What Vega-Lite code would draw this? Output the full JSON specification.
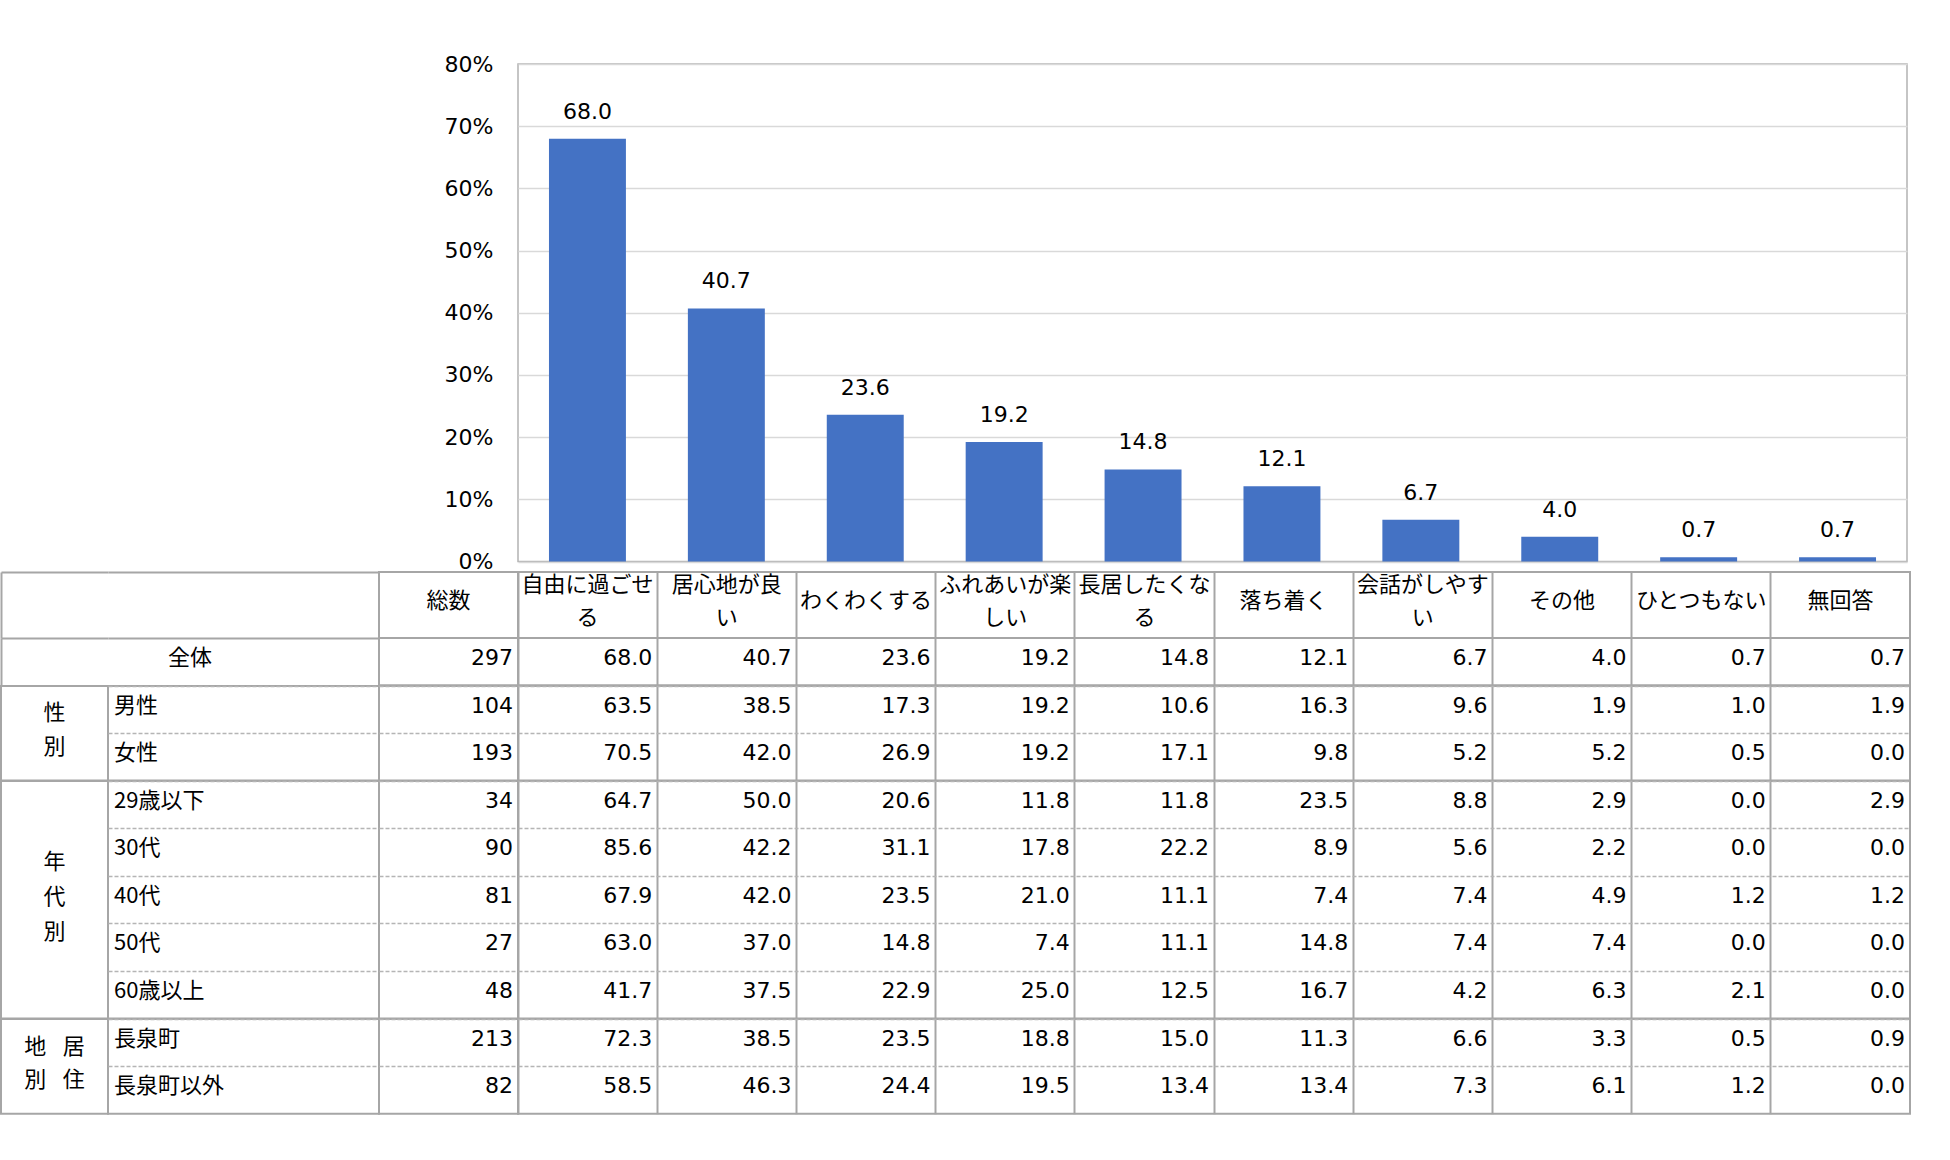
{
  "$schema": "https://vega.github.io/schema/vega-lite/v6.json",
  "padding": {"top": 52, "left": 0, "right": 5, "bottom": 5},
  "background": "white",
  "config": {
    "view": {"stroke": "#a6a6a6", "strokeWidth": 2},
    "text": {"color": "#000000"}
  },
  "datasets": {
    "rows": [
      {"group": "全体", "row": "全体", "n": 297, "自由に過ごせる": 68.0, "居心地が良い": 40.7, "わくわくする": 23.6, "ふれあいが楽しい": 19.2, "長居したくなる": 14.8, "落ち着く": 12.1, "会話がしやすい": 6.7, "その他": 4.0, "ひとつもない": 0.7, "無回答": 0.7},
      {"group": "性別", "row": "男性", "n": 104, "自由に過ごせる": 63.5, "居心地が良い": 38.5, "わくわくする": 17.3, "ふれあいが楽しい": 19.2, "長居したくなる": 10.6, "落ち着く": 16.3, "会話がしやすい": 9.6, "その他": 1.9, "ひとつもない": 1.0, "無回答": 1.9},
      {"group": "性別", "row": "女性", "n": 193, "自由に過ごせる": 70.5, "居心地が良い": 42.0, "わくわくする": 26.9, "ふれあいが楽しい": 19.2, "長居したくなる": 17.1, "落ち着く": 9.8, "会話がしやすい": 5.2, "その他": 5.2, "ひとつもない": 0.5, "無回答": 0.0},
      {"group": "年代別", "row": "29歳以下", "n": 34, "自由に過ごせる": 64.7, "居心地が良い": 50.0, "わくわくする": 20.6, "ふれあいが楽しい": 11.8, "長居したくなる": 11.8, "落ち着く": 23.5, "会話がしやすい": 8.8, "その他": 2.9, "ひとつもない": 0.0, "無回答": 2.9},
      {"group": "年代別", "row": "30代", "n": 90, "自由に過ごせる": 85.6, "居心地が良い": 42.2, "わくわくする": 31.1, "ふれあいが楽しい": 17.8, "長居したくなる": 22.2, "落ち着く": 8.9, "会話がしやすい": 5.6, "その他": 2.2, "ひとつもない": 0.0, "無回答": 0.0},
      {"group": "年代別", "row": "40代", "n": 81, "自由に過ごせる": 67.9, "居心地が良い": 42.0, "わくわくする": 23.5, "ふれあいが楽しい": 21.0, "長居したくなる": 11.1, "落ち着く": 7.4, "会話がしやすい": 7.4, "その他": 4.9, "ひとつもない": 1.2, "無回答": 1.2},
      {"group": "年代別", "row": "50代", "n": 27, "自由に過ごせる": 63.0, "居心地が良い": 37.0, "わくわくする": 14.8, "ふれあいが楽しい": 7.4, "長居したくなる": 11.1, "落ち着く": 14.8, "会話がしやすい": 7.4, "その他": 7.4, "ひとつもない": 0.0, "無回答": 0.0},
      {"group": "年代別", "row": "60歳以上", "n": 48, "自由に過ごせる": 41.7, "居心地が良い": 37.5, "わくわくする": 22.9, "ふれあいが楽しい": 25.0, "長居したくなる": 12.5, "落ち着く": 16.7, "会話がしやすい": 4.2, "その他": 6.3, "ひとつもない": 2.1, "無回答": 0.0},
      {"group": "居住地別", "row": "長泉町", "n": 213, "自由に過ごせる": 72.3, "居心地が良い": 38.5, "わくわくする": 23.5, "ふれあいが楽しい": 18.8, "長居したくなる": 15.0, "落ち着く": 11.3, "会話がしやすい": 6.6, "その他": 3.3, "ひとつもない": 0.5, "無回答": 0.9},
      {"group": "居住地別", "row": "長泉町以外", "n": 82, "自由に過ごせる": 58.5, "居心地が良い": 46.3, "わくわくする": 24.4, "ふれあいが楽しい": 19.5, "長居したくなる": 13.4, "落ち着く": 13.4, "会話がしやすい": 7.3, "その他": 6.1, "ひとつもない": 1.2, "無回答": 0.0}
    ],
    "cats": [
      {"cat": "自由に過ごせる", "head": ["自由に過ごせ", "る"]},
      {"cat": "居心地が良い", "head": ["居心地が良", "い"]},
      {"cat": "わくわくする", "head": ["わくわくする"]},
      {"cat": "ふれあいが楽しい", "head": ["ふれあいが楽", "しい"]},
      {"cat": "長居したくなる", "head": ["長居したくな", "る"]},
      {"cat": "落ち着く", "head": ["落ち着く"]},
      {"cat": "会話がしやすい", "head": ["会話がしやす", "い"]},
      {"cat": "その他", "head": ["その他"]},
      {"cat": "ひとつもない", "head": ["ひとつもない"]},
      {"cat": "無回答", "head": ["無回答"]}
    ]
  },
  "columns": 4,
  "spacing": 0,
  "bounds": "flush",
  "concat": [
    {
      "width": 107, "height": 507.5,
      "view": {"stroke": null},
      "data": {"values": [{"t": ""}]},
      "mark": "text",
      "encoding": {"text": {"field": "t"}}
    },
    {
      "width": 271, "height": 507.5,
      "view": {"stroke": null},
      "data": {"values": [{"t": ""}]},
      "mark": "text",
      "encoding": {"text": {"field": "t"}}
    },
    {
      "width": 139, "height": 507.5,
      "view": {"stroke": null},
      "data": {"values": [{"t": ""}]},
      "mark": "text",
      "encoding": {"text": {"field": "t"}}
    },
    {
      "width": 1389, "height": 497.5,
      "view": {"stroke": "#b3b3b3", "strokeWidth": 1.5},
      "data": {"name": "rows"},
      "transform": [
        {"filter": "datum.group === '全体'"},
        {"fold": ["自由に過ごせる", "居心地が良い", "わくわくする", "ふれあいが楽しい", "長居したくなる", "落ち着く", "会話がしやすい", "その他", "ひとつもない", "無回答"], "as": ["cat", "v"]}
      ],
      "encoding": {
        "x": {"field": "cat", "type": "nominal", "sort": null, "scale": {"paddingInner": 0.446, "paddingOuter": 0.223}, "axis": null},
        "y": {"field": "v", "type": "quantitative", "scale": {"domain": [0, 80], "nice": false},
          "axis": {"title": null, "values": [0, 10, 20, 30, 40, 50, 60, 70, 80], "labelExpr": "datum.value + '%'", "labelFont": "DejaVu Sans", "labelFontSize": 22, "labelColor": "#000000", "labelPadding": 25, "ticks": false, "domain": false, "grid": true, "gridColor": "#d9d9d9", "gridWidth": 1.5}}
      },
      "layer": [
        {"mark": {"type": "bar", "color": "#4472C4"}},
        {"mark": {"type": "text", "font": "DejaVu Sans", "fontSize": 22, "baseline": "alphabetic", "dy": -20},
          "encoding": {"text": {"field": "v", "type": "quantitative", "format": ".1f"}}}
      ]
    },

    {
      "width": 107, "height": 66,
      "view": {"stroke": null},
      "data": {"values": [{"k": "a", "t": ""}]},
      "mark": "text",
      "encoding": {
        "x": {"field": "k", "type": "nominal", "scale": {"type": "band", "paddingInner": 0, "paddingOuter": 0},
          "axis": {"orient": "top", "title": null, "labels": false, "ticks": false, "domain": true, "domainColor": "#a6a6a6", "domainWidth": 2, "grid": true, "gridColor": "#a6a6a6", "gridWidth": 2, "bandPosition": 0}},
        "text": {"field": "t"}
      }
    },
    {
      "width": 271, "height": 66,
      "view": {"stroke": null},
      "data": {"values": [{"k": "a", "t": ""}]},
      "mark": "text",
      "encoding": {
        "x": {"field": "k", "type": "nominal", "scale": {"type": "band", "paddingInner": 0, "paddingOuter": 0},
          "axis": {"orient": "top", "title": null, "labels": false, "ticks": false, "domain": true, "domainColor": "#a6a6a6", "domainWidth": 2, "grid": false}},
        "text": {"field": "t"}
      }
    },
    {
      "width": 139, "height": 66,
      "data": {"values": [{"t": "総数"}]},
      "mark": {"type": "text", "font": "Noto Sans CJK JP", "fontSize": 22, "baseline": "middle", "dy": -4},
      "encoding": {
        "x": {"field": "t", "type": "nominal", "scale": {"type": "band", "paddingInner": 0, "paddingOuter": 0}, "bandPosition": 0.5, "axis": null},
        "y": {"field": "t", "type": "nominal", "scale": {"type": "band", "paddingInner": 0, "paddingOuter": 0}, "bandPosition": 0.5, "axis": null},
        "text": {"field": "t"}
      }
    },
    {
      "width": 1392, "height": 66,
      "data": {"name": "cats"},
      "encoding": {
        "x": {"field": "cat", "type": "nominal", "scale": {"type": "band", "paddingInner": 0, "paddingOuter": 0, "domain": ["自由に過ごせる", "居心地が良い", "わくわくする", "ふれあいが楽しい", "長居したくなる", "落ち着く", "会話がしやすい", "その他", "ひとつもない", "無回答"]}, "bandPosition": 0.5,
          "axis": {"title": null, "labels": false, "ticks": false, "domain": false, "grid": true, "gridColor": "#a6a6a6", "gridWidth": 2, "bandPosition": 0}},
        "text": {"field": "head"}
      },
      "layer": [
        {"transform": [{"filter": "length(datum.head) === 1"}],
          "mark": {"type": "text", "font": "Noto Sans CJK JP", "fontSize": 22, "baseline": "middle", "dy": -4}},
        {"transform": [{"filter": "length(datum.head) === 2"}],
          "mark": {"type": "text", "font": "Noto Sans CJK JP", "fontSize": 22, "baseline": "middle", "lineHeight": 32.5, "dy": -20}}
      ]
    },

    {
      "width": 107, "height": 47.3,
      "view": {"stroke": null},
      "data": {"values": [{"k": "a", "t": ""}]},
      "mark": "text",
      "encoding": {
        "x": {"field": "k", "type": "nominal", "scale": {"type": "band", "paddingInner": 0, "paddingOuter": 0},
          "axis": {"orient": "top", "title": null, "labels": false, "ticks": false, "domain": true, "domainColor": "#a6a6a6", "domainWidth": 2, "grid": true, "gridColor": "#a6a6a6", "gridWidth": 2, "bandPosition": 0}},
        "text": {"field": "t"}
      }
    },
    {
      "width": 271, "height": 47.3,
      "view": {"stroke": null},
      "data": {"name": "rows"},
      "transform": [{"filter": "datum.group === '全体'"}],
      "mark": {"type": "text", "font": "Noto Sans CJK JP", "fontSize": 22, "baseline": "middle", "dy": -4},
      "encoding": {
        "x": {"field": "group", "type": "nominal", "scale": {"type": "band", "paddingInner": 0, "paddingOuter": 0}, "bandPosition": 0.3026,
          "axis": {"orient": "top", "title": null, "labels": false, "ticks": false, "domain": true, "domainColor": "#a6a6a6", "domainWidth": 2, "grid": false}},
        "y": {"field": "row", "type": "nominal", "scale": {"type": "band", "paddingInner": 0, "paddingOuter": 0}, "bandPosition": 0.5, "axis": null},
        "text": {"field": "row"}
      }
    },
    {
      "width": 139, "height": 47.3,
      "data": {"name": "rows"},
      "transform": [{"filter": "datum.group === '全体'"}],
      "mark": {"type": "text", "font": "DejaVu Sans", "fontSize": 22, "align": "right", "baseline": "middle", "dx": -5, "dy": -4},
      "encoding": {
        "x": {"field": "group", "type": "nominal", "scale": {"type": "band", "paddingInner": 0, "paddingOuter": 0}, "bandPosition": 1, "axis": null},
        "y": {"field": "row", "type": "nominal", "scale": {"type": "band", "paddingInner": 0, "paddingOuter": 0}, "bandPosition": 0.5, "axis": null},
        "text": {"field": "n", "type": "quantitative", "format": "d"}
      }
    },
    {
      "width": 1392, "height": 47.3,
      "data": {"name": "rows"},
      "transform": [
        {"filter": "datum.group === '全体'"},
        {"fold": ["自由に過ごせる", "居心地が良い", "わくわくする", "ふれあいが楽しい", "長居したくなる", "落ち着く", "会話がしやすい", "その他", "ひとつもない", "無回答"], "as": ["cat", "v"]}
      ],
      "mark": {"type": "text", "font": "DejaVu Sans", "fontSize": 22, "align": "right", "baseline": "middle", "dx": -5, "dy": -4},
      "encoding": {
        "x": {"field": "cat", "type": "nominal", "sort": null, "scale": {"type": "band", "paddingInner": 0, "paddingOuter": 0}, "bandPosition": 1,
          "axis": {"title": null, "labels": false, "ticks": false, "domain": false, "grid": true, "gridColor": "#a6a6a6", "gridWidth": 2, "bandPosition": 0}},
        "y": {"field": "row", "type": "nominal", "scale": {"type": "band", "paddingInner": 0, "paddingOuter": 0}, "bandPosition": 0.5, "axis": null},
        "text": {"field": "v", "type": "quantitative", "format": ".1f"}
      }
    },

    {
      "width": 107, "height": 94.5,
      "data": {"values": [{"k": "性別", "g": ["性", "別"]}]},
      "mark": {"type": "text", "font": "Noto Sans CJK JP", "fontSize": 22, "baseline": "middle", "lineHeight": 34, "dy": -20},
      "encoding": {
        "x": {"field": "k", "type": "nominal", "scale": {"type": "band", "paddingInner": 0, "paddingOuter": 0}, "bandPosition": 0.5, "axis": null},
        "y": {"field": "k", "type": "nominal", "scale": {"type": "band", "paddingInner": 0, "paddingOuter": 0}, "bandPosition": 0.5, "axis": null},
        "text": {"field": "g"}
      }
    },
    {
      "width": 271, "height": 94.5,
      "data": {"name": "rows"},
      "transform": [{"filter": "datum.group === '性別'"}],
      "mark": {"type": "text", "font": "Noto Sans CJK JP", "fontSize": 22, "align": "left", "baseline": "middle", "dx": 6, "dy": -4},
      "encoding": {
        "x": {"field": "group", "type": "nominal", "scale": {"type": "band", "paddingInner": 0, "paddingOuter": 0}, "bandPosition": 0, "axis": null},
        "y": {"field": "row", "type": "nominal", "sort": null, "scale": {"type": "band", "paddingInner": 0, "paddingOuter": 0}, "bandPosition": 0.5,
          "axis": {"title": null, "labels": false, "ticks": false, "domain": false, "grid": true, "gridDash": [4, 2], "gridColor": "#b5b5b5", "gridWidth": 1.5, "bandPosition": 0}},
        "text": {"field": "row"}
      }
    },
    {
      "width": 139, "height": 94.5,
      "data": {"name": "rows"},
      "transform": [{"filter": "datum.group === '性別'"}],
      "mark": {"type": "text", "font": "DejaVu Sans", "fontSize": 22, "align": "right", "baseline": "middle", "dx": -5, "dy": -4},
      "encoding": {
        "x": {"field": "group", "type": "nominal", "scale": {"type": "band", "paddingInner": 0, "paddingOuter": 0}, "bandPosition": 1, "axis": null},
        "y": {"field": "row", "type": "nominal", "sort": null, "scale": {"type": "band", "paddingInner": 0, "paddingOuter": 0}, "bandPosition": 0.5,
          "axis": {"title": null, "labels": false, "ticks": false, "domain": false, "grid": true, "gridDash": [4, 2], "gridColor": "#b5b5b5", "gridWidth": 1.5, "bandPosition": 0}},
        "text": {"field": "n", "type": "quantitative", "format": "d"}
      }
    },
    {
      "width": 1392, "height": 94.5,
      "data": {"name": "rows"},
      "transform": [
        {"filter": "datum.group === '性別'"},
        {"fold": ["自由に過ごせる", "居心地が良い", "わくわくする", "ふれあいが楽しい", "長居したくなる", "落ち着く", "会話がしやすい", "その他", "ひとつもない", "無回答"], "as": ["cat", "v"]}
      ],
      "mark": {"type": "text", "font": "DejaVu Sans", "fontSize": 22, "align": "right", "baseline": "middle", "dx": -5, "dy": -4},
      "encoding": {
        "x": {"field": "cat", "type": "nominal", "sort": null, "scale": {"type": "band", "paddingInner": 0, "paddingOuter": 0}, "bandPosition": 1,
          "axis": {"title": null, "labels": false, "ticks": false, "domain": false, "grid": true, "gridColor": "#a6a6a6", "gridWidth": 2, "bandPosition": 0}},
        "y": {"field": "row", "type": "nominal", "sort": null, "scale": {"type": "band", "paddingInner": 0, "paddingOuter": 0}, "bandPosition": 0.5,
          "axis": {"title": null, "labels": false, "ticks": false, "domain": false, "grid": true, "gridDash": [4, 2], "gridColor": "#b5b5b5", "gridWidth": 1.5, "bandPosition": 0}},
        "text": {"field": "v", "type": "quantitative", "format": ".1f"}
      }
    },

    {
      "width": 107, "height": 237.5,
      "data": {"values": [{"k": "年代別", "g": ["年", "代", "別"]}]},
      "mark": {"type": "text", "font": "Noto Sans CJK JP", "fontSize": 22, "baseline": "middle", "lineHeight": 35, "dy": -38},
      "encoding": {
        "x": {"field": "k", "type": "nominal", "scale": {"type": "band", "paddingInner": 0, "paddingOuter": 0}, "bandPosition": 0.5, "axis": null},
        "y": {"field": "k", "type": "nominal", "scale": {"type": "band", "paddingInner": 0, "paddingOuter": 0}, "bandPosition": 0.5, "axis": null},
        "text": {"field": "g"}
      }
    },
    {
      "width": 271, "height": 237.5,
      "data": {"name": "rows"},
      "transform": [{"filter": "datum.group === '年代別'"}],
      "mark": {"type": "text", "font": "Noto Sans CJK JP", "fontSize": 22, "align": "left", "baseline": "middle", "dx": 6, "dy": -4},
      "encoding": {
        "x": {"field": "group", "type": "nominal", "scale": {"type": "band", "paddingInner": 0, "paddingOuter": 0}, "bandPosition": 0, "axis": null},
        "y": {"field": "row", "type": "nominal", "sort": null, "scale": {"type": "band", "paddingInner": 0, "paddingOuter": 0}, "bandPosition": 0.5,
          "axis": {"title": null, "labels": false, "ticks": false, "domain": false, "grid": true, "gridDash": [4, 2], "gridColor": "#b5b5b5", "gridWidth": 1.5, "bandPosition": 0}},
        "text": {"field": "row"}
      }
    },
    {
      "width": 139, "height": 237.5,
      "data": {"name": "rows"},
      "transform": [{"filter": "datum.group === '年代別'"}],
      "mark": {"type": "text", "font": "DejaVu Sans", "fontSize": 22, "align": "right", "baseline": "middle", "dx": -5, "dy": -4},
      "encoding": {
        "x": {"field": "group", "type": "nominal", "scale": {"type": "band", "paddingInner": 0, "paddingOuter": 0}, "bandPosition": 1, "axis": null},
        "y": {"field": "row", "type": "nominal", "sort": null, "scale": {"type": "band", "paddingInner": 0, "paddingOuter": 0}, "bandPosition": 0.5,
          "axis": {"title": null, "labels": false, "ticks": false, "domain": false, "grid": true, "gridDash": [4, 2], "gridColor": "#b5b5b5", "gridWidth": 1.5, "bandPosition": 0}},
        "text": {"field": "n", "type": "quantitative", "format": "d"}
      }
    },
    {
      "width": 1392, "height": 237.5,
      "data": {"name": "rows"},
      "transform": [
        {"filter": "datum.group === '年代別'"},
        {"fold": ["自由に過ごせる", "居心地が良い", "わくわくする", "ふれあいが楽しい", "長居したくなる", "落ち着く", "会話がしやすい", "その他", "ひとつもない", "無回答"], "as": ["cat", "v"]}
      ],
      "mark": {"type": "text", "font": "DejaVu Sans", "fontSize": 22, "align": "right", "baseline": "middle", "dx": -5, "dy": -4},
      "encoding": {
        "x": {"field": "cat", "type": "nominal", "sort": null, "scale": {"type": "band", "paddingInner": 0, "paddingOuter": 0}, "bandPosition": 1,
          "axis": {"title": null, "labels": false, "ticks": false, "domain": false, "grid": true, "gridColor": "#a6a6a6", "gridWidth": 2, "bandPosition": 0}},
        "y": {"field": "row", "type": "nominal", "sort": null, "scale": {"type": "band", "paddingInner": 0, "paddingOuter": 0}, "bandPosition": 0.5,
          "axis": {"title": null, "labels": false, "ticks": false, "domain": false, "grid": true, "gridDash": [4, 2], "gridColor": "#b5b5b5", "gridWidth": 1.5, "bandPosition": 0}},
        "text": {"field": "v", "type": "quantitative", "format": ".1f"}
      }
    },

    {
      "width": 107, "height": 94.7,
      "data": {"values": [{"k": "居住地別", "g": ["地\u2002\u2005居", "別\u2002\u2005住"]}]},
      "mark": {"type": "text", "font": "Noto Sans CJK JP", "fontSize": 22, "baseline": "middle", "lineHeight": 33, "dy": -19},
      "encoding": {
        "x": {"field": "k", "type": "nominal", "scale": {"type": "band", "paddingInner": 0, "paddingOuter": 0}, "bandPosition": 0.5, "axis": null},
        "y": {"field": "k", "type": "nominal", "scale": {"type": "band", "paddingInner": 0, "paddingOuter": 0}, "bandPosition": 0.5, "axis": null},
        "text": {"field": "g"}
      }
    },
    {
      "width": 271, "height": 94.7,
      "data": {"name": "rows"},
      "transform": [{"filter": "datum.group === '居住地別'"}],
      "mark": {"type": "text", "font": "Noto Sans CJK JP", "fontSize": 22, "align": "left", "baseline": "middle", "dx": 6, "dy": -4},
      "encoding": {
        "x": {"field": "group", "type": "nominal", "scale": {"type": "band", "paddingInner": 0, "paddingOuter": 0}, "bandPosition": 0, "axis": null},
        "y": {"field": "row", "type": "nominal", "sort": null, "scale": {"type": "band", "paddingInner": 0, "paddingOuter": 0}, "bandPosition": 0.5,
          "axis": {"title": null, "labels": false, "ticks": false, "domain": false, "grid": true, "gridDash": [4, 2], "gridColor": "#b5b5b5", "gridWidth": 1.5, "bandPosition": 0}},
        "text": {"field": "row"}
      }
    },
    {
      "width": 139, "height": 94.7,
      "data": {"name": "rows"},
      "transform": [{"filter": "datum.group === '居住地別'"}],
      "mark": {"type": "text", "font": "DejaVu Sans", "fontSize": 22, "align": "right", "baseline": "middle", "dx": -5, "dy": -4},
      "encoding": {
        "x": {"field": "group", "type": "nominal", "scale": {"type": "band", "paddingInner": 0, "paddingOuter": 0}, "bandPosition": 1, "axis": null},
        "y": {"field": "row", "type": "nominal", "sort": null, "scale": {"type": "band", "paddingInner": 0, "paddingOuter": 0}, "bandPosition": 0.5,
          "axis": {"title": null, "labels": false, "ticks": false, "domain": false, "grid": true, "gridDash": [4, 2], "gridColor": "#b5b5b5", "gridWidth": 1.5, "bandPosition": 0}},
        "text": {"field": "n", "type": "quantitative", "format": "d"}
      }
    },
    {
      "width": 1392, "height": 94.7,
      "data": {"name": "rows"},
      "transform": [
        {"filter": "datum.group === '居住地別'"},
        {"fold": ["自由に過ごせる", "居心地が良い", "わくわくする", "ふれあいが楽しい", "長居したくなる", "落ち着く", "会話がしやすい", "その他", "ひとつもない", "無回答"], "as": ["cat", "v"]}
      ],
      "mark": {"type": "text", "font": "DejaVu Sans", "fontSize": 22, "align": "right", "baseline": "middle", "dx": -5, "dy": -4},
      "encoding": {
        "x": {"field": "cat", "type": "nominal", "sort": null, "scale": {"type": "band", "paddingInner": 0, "paddingOuter": 0}, "bandPosition": 1,
          "axis": {"title": null, "labels": false, "ticks": false, "domain": false, "grid": true, "gridColor": "#a6a6a6", "gridWidth": 2, "bandPosition": 0}},
        "y": {"field": "row", "type": "nominal", "sort": null, "scale": {"type": "band", "paddingInner": 0, "paddingOuter": 0}, "bandPosition": 0.5,
          "axis": {"title": null, "labels": false, "ticks": false, "domain": false, "grid": true, "gridDash": [4, 2], "gridColor": "#b5b5b5", "gridWidth": 1.5, "bandPosition": 0}},
        "text": {"field": "v", "type": "quantitative", "format": ".1f"}
      }
    }
  ]
}
